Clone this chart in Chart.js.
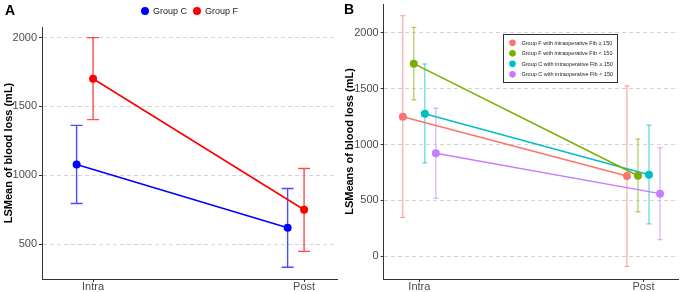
<!DOCTYPE html>
<html>
<head>
<meta charset="utf-8">
<script src="https://cdn.jsdelivr.net/npm/chart.js@4.4.1/dist/chart.umd.min.js"></script>
<style>
  body { margin: 0; background: #fff; }
  #wrap { display: flex; width: 682px; height: 292px; }
  .panel { width: 341px; height: 292px; }
</style>
</head>
<body>
<div id="wrap">
  <div class="panel"><canvas id="chartA" width="341" height="292"></canvas></div>
  <div class="panel"><canvas id="chartB" width="341" height="292"></canvas></div>
</div>
<script>
// shared categories
const categories = ['Intra', 'Post'];

// Panel A data
const groupsA = ['Group C', 'Group F'];
const meanC = [1078, 618];
const lowC = [795, 331];
const highC = [1362, 904];
const meanF = [1701, 749];
const lowF = [1404, 447];
const highF = [2000, 1049];
const yTicksA = [500, 1000, 1500, 2000];

// Panel B data
const groupsB = [
  'Group F with intraoperative Fib \u2265 150',
  'Group F with intraoperative Fib < 150',
  'Group C with intraoperative Fib \u2265 150',
  'Group C with intraoperative Fib < 150'
];
const meanFhi = [1248, 719];
const lowFhi = [348, -89];
const highFhi = [2151, 1524];
const meanFlo = [1723, 721];
const lowFlo = [1399, 398];
const highFlo = [2047, 1049];
const meanChi = [1275, 730];
const lowChi = [835, 290];
const highChi = [1720, 1174];
const meanClo = [921, 561];
const lowClo = [520, 149];
const highClo = [1325, 971];
const yTicksB = [0, 500, 1000, 1500, 2000];

const FONT = "'Liberation Sans', Arial, sans-serif";
Chart.defaults.font.family = FONT;

function withAlpha(hex, a) {
  const n = parseInt(hex.slice(1), 16);
  return `rgba(${(n >> 16) & 255}, ${(n >> 8) & 255}, ${n & 255}, ${a})`;
}

// error bars drawn under lines and points, using the chart's own scales
const errorBars = {
  id: 'errorBars',
  beforeDatasetsDraw(chart, args, opts) {
    const ctx = chart.ctx;
    const xs = chart.scales.x, ys = chart.scales.y;
    chart.data.datasets.forEach(ds => {
      ctx.save();
      ctx.strokeStyle = withAlpha(ds.borderColor, opts.alpha);
      ctx.lineWidth = opts.width;
      ds.data.forEach((p, j) => {
        const x = xs.getPixelForValue(p.x);
        const y1 = ys.getPixelForValue(ds.errLow[j]);
        const y2 = ys.getPixelForValue(ds.errHigh[j]);
        ctx.beginPath();
        ctx.moveTo(x, y1); ctx.lineTo(x, y2);
        ctx.moveTo(x - opts.cap, y1); ctx.lineTo(x + opts.cap, y1);
        ctx.moveTo(x - opts.cap, y2); ctx.lineTo(x + opts.cap, y2);
        ctx.stroke();
      });
      ctx.restore();
    });
  }
};

// panel letter + legend
const decorations = {
  id: 'decorations',
  afterDraw(chart, args, opts) {
    const ctx = chart.ctx;
    const area = chart.chartArea;
    ctx.save();
    ctx.fillStyle = '#000';
    ctx.font = `bold 14px ${FONT}`;
    ctx.textBaseline = 'alphabetic';
    ctx.fillText(opts.letter, opts.letterX, opts.letterY);

    const items = chart.data.datasets;
    if (opts.legend === 'top') {
      ctx.font = `9px ${FONT}`;
      const r = 4;
      const widths = items.map(d => 2 * r + 4 + ctx.measureText(d.label).width);
      const total = widths.reduce((a, b) => a + b, 0) + 6 * (items.length - 1);
      let x = (area.left + area.right) / 2 - total / 2;
      const y = 11;
      items.forEach((d, i) => {
        ctx.fillStyle = d.borderColor;
        ctx.beginPath(); ctx.arc(x + r, y, r, 0, Math.PI * 2); ctx.fill();
        ctx.fillStyle = '#222';
        ctx.textBaseline = 'middle';
        ctx.fillText(d.label, x + 2 * r + 4, y + 0.5);
        x += widths[i] + 6;
      });
    } else {
      ctx.font = `5.5px ${FONT}`;
      const maxW = Math.max(...items.map(d => ctx.measureText(d.label).width));
      const rowH = 10.5;
      const w = 18 + maxW + 4;
      const h = rowH * items.length + 6;
      const cx = area.left + 0.6 * (area.right - area.left);
      const cy = area.top + 0.198 * (area.bottom - area.top);
      const bx = cx - w / 2, by = cy - h / 2;
      ctx.fillStyle = '#fff';
      ctx.fillRect(bx, by, w, h);
      ctx.strokeStyle = '#333';
      ctx.lineWidth = 1;
      ctx.strokeRect(Math.round(bx) + 0.5, Math.round(by) + 0.5, Math.round(w), Math.round(h));
      items.forEach((d, i) => {
        const y = by + 8.4 + i * rowH;
        ctx.fillStyle = d.borderColor;
        ctx.beginPath(); ctx.arc(bx + 9, y, 3.3, 0, Math.PI * 2); ctx.fill();
        ctx.fillStyle = '#222';
        ctx.textBaseline = 'middle';
        ctx.fillText(d.label, bx + 18, y + 0.3);
      });
    }
    ctx.restore();
  }
};

function buildChart(id, cfg) {
  const datasets = cfg.groups.map((g, i) => ({
    label: g,
    data: categories.map((c, j) => ({ x: j + 1 + cfg.dodge[i], y: cfg.means[i][j] })),
    errLow: cfg.lows[i],
    errHigh: cfg.highs[i],
    borderColor: cfg.colors[i],
    backgroundColor: cfg.colors[i],
    showLine: true,
    borderWidth: cfg.lineWidth,
    pointRadius: cfg.pointRadius,
    pointBorderWidth: 0
  }));

  return new Chart(document.getElementById(id), {
    type: 'scatter',
    data: { datasets },
    plugins: [errorBars, decorations],
    options: {
      responsive: false,
      animation: false,
      events: [],
      layout: { padding: { left: 2, top: cfg.top, right: 4, bottom: 0 } },
      scales: {
        x: {
          type: 'linear',
          min: cfg.xMin,
          max: cfg.xMax,
          afterBuildTicks: s => { s.ticks = categories.map((c, i) => ({ value: i + 1 })); },
          afterFit: s => { s.height = 13; s.paddingLeft = 0; s.paddingRight = 0; },
          ticks: {
            callback: v => categories[Math.round(v) - 1],
            color: '#4d4d4d',
            font: { size: 11 },
            padding: -2,
            maxRotation: 0,
            autoSkip: false
          },
          grid: { drawOnChartArea: false, tickLength: 3, tickColor: '#333' },
          border: { color: '#333', width: 1 }
        },
        y: {
          min: cfg.yMin,
          max: cfg.yMax,
          afterBuildTicks: s => { s.ticks = cfg.yTicks.map(v => ({ value: v })); },
          afterFit: s => { s.width = cfg.axisW; s.paddingTop = 0; s.paddingBottom = 0; },
          ticks: { color: '#4d4d4d', font: { size: 11 }, padding: 2, callback: v => String(v) },
          grid: { color: '#d6d6d6', lineWidth: 1, tickLength: 3, tickColor: '#333' },
          border: { color: '#333', width: 1, dash: [4, 3] },
          title: {
            display: true,
            text: cfg.yTitle,
            color: '#000',
            font: { size: 11, weight: 'bold' },
            padding: { top: 0, bottom: 0 }
          }
        }
      },
      plugins: {
        legend: { display: false },
        tooltip: { enabled: false },
        errorBars: { width: cfg.errWidth, cap: cfg.cap, alpha: cfg.errAlpha },
        decorations: { letter: cfg.letter, letterX: cfg.letterX, letterY: cfg.letterY, legend: cfg.legend }
      }
    }
  });
}

buildChart('chartA', {
  groups: groupsA,
  means: [meanC, meanF],
  lows: [lowC, lowF],
  highs: [highC, highF],
  colors: ['#0000FF', '#FF0000'],
  dodge: [-0.078, 0],
  xMin: 0.758, xMax: 2.156,
  yMin: 246, yMax: 2077,
  yTicks: yTicksA,
  yTitle: 'LSMean of blood loss (mL)',
  top: 27, axisW: 40,
  lineWidth: 1.6, pointRadius: 4,
  errWidth: 1.4, cap: 6, errAlpha: 0.7,
  letter: 'A', letterX: 5, letterY: 14.5,
  legend: 'top'
});

buildChart('chartB', {
  groups: groupsB,
  means: [meanFhi, meanFlo, meanChi, meanClo],
  lows: [lowFhi, lowFlo, lowChi, lowClo],
  highs: [highFhi, highFlo, highChi, highClo],
  colors: ['#F8766D', '#7CAE00', '#00BFC4', '#C77CFF'],
  dodge: [-0.0737, -0.0246, 0.0246, 0.0737],
  xMin: 0.841, xMax: 2.154,
  yMin: -202, yMax: 2256,
  yTicks: yTicksB,
  yTitle: 'LSMeans of blood loss (mL)',
  top: 3, axisW: 40.7,
  lineWidth: 1.5, pointRadius: 4,
  errWidth: 1, cap: 2.5, errAlpha: 0.75,
  letter: 'B', letterX: 3, letterY: 13.5,
  legend: 'box'
});
</script>
</body>
</html>
